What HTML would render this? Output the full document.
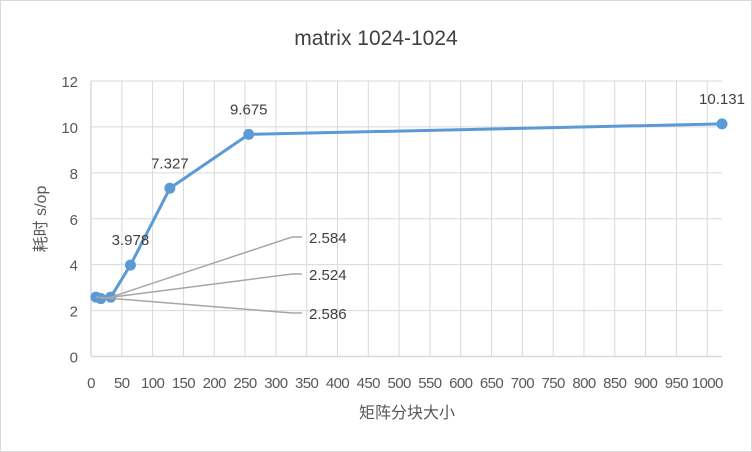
<!DOCTYPE html>
<html><head><meta charset="utf-8"><style>
body{margin:0;background:#fff;}
svg{display:block;font-family:"Liberation Sans","Noto Sans CJK SC",sans-serif;}
</style></head><body>
<svg id="chart" width="752" height="452">
<rect x="0.5" y="0.5" width="751" height="451" fill="#fff" stroke="#d9d9d9"/>
<text x="376" y="45" text-anchor="middle" font-size="21" fill="#404040">matrix 1024-1024</text>
<g id="grid"></g><g id="marks"></g><g id="labels"></g>
<text transform="translate(46,219) rotate(-90)" text-anchor="middle" font-size="16" fill="#595959">耗时 s/op</text>
<text x="407" y="418" text-anchor="middle" font-size="16" fill="#595959">矩阵分块大小</text>
</svg>
<script>
const xValues=[8,16,32,64,128,256,1024];
const yValues=[2.586,2.524,2.584,3.978,7.327,9.675,10.131];
const valueLabels=["2.586","2.524","2.584","3.978","7.327","9.675","10.131"];
const xTicks=[0,50,100,150,200,250,300,350,400,450,500,550,600,650,700,750,800,850,900,950,1000];
const yTicks=[0,2,4,6,8,10,12];
const L=91,R=722,T=81,B=356.5,XMAX=1024,YMAX=12;
const xs=v=>L+v/XMAX*(R-L), ys=v=>B-v/YMAX*(B-T);
const NS="http://www.w3.org/2000/svg";
function mk(tag,attrs,parent,text){const e=document.createElementNS(NS,tag);for(const k in attrs)e.setAttribute(k,attrs[k]);if(text!==undefined)e.textContent=text;document.getElementById(parent).appendChild(e);return e;}
yTicks.forEach(t=>{
 let g=mk('line',{x1:L,x2:R,y1:ys(t),y2:ys(t),stroke:'#d9d9d9','stroke-width':t===0?1.5:1},'grid');
 
 
 let l=mk('text',{x:L-13,y:ys(t)+6,'text-anchor':'end','font-size':15,fill:'#595959'},'grid',t);
 
 
});
xTicks.forEach(t=>{
 let g=mk('line',{x1:xs(t),x2:xs(t),y1:T,y2:B,stroke:'#d9d9d9','stroke-width':t===0?1.5:1},'grid');
 
 
 let l=mk('text',{x:xs(t),y:388,'text-anchor':'middle','font-size':15,fill:'#595959','letter-spacing':'-0.6'},'grid',t);
 
 
});
let d=xValues.map((x,i)=>(i?'L':'M')+xs(x)+','+ys(yValues[i])).join(' ');
let p=mk('path',{d:d,fill:'none',stroke:'#5b9bd5','stroke-width':3},'marks');


xValues.forEach((x,i)=>{
 let c=mk('circle',{cx:xs(x),cy:ys(yValues[i]),r:5.5,fill:'#5b9bd5'},'marks');
 
 
});
// leader-line labels for the first three, offsets in px
const leaderY=[313,274,237];
for(let i=0;i<3;i++){
 let ln=mk('polyline',{points:`${xs(xValues[i])},${ys(yValues[i])} 292,${leaderY[i]} 302,${leaderY[i]}`,fill:'none',stroke:'#a6a6a6','stroke-width':1.5},'labels');
 
 
 let t=mk('text',{x:309,y:leaderY[i]+6,'font-size':15,fill:'#404040'},'labels',valueLabels[i]);
 
 
}
for(let i=3;i<xValues.length;i++){
 let t=mk('text',{x:xs(xValues[i]),y:ys(yValues[i])-20,'text-anchor':'middle','font-size':15,fill:'#404040'},'labels',valueLabels[i]);
 
 
}
</script>
</body></html>
